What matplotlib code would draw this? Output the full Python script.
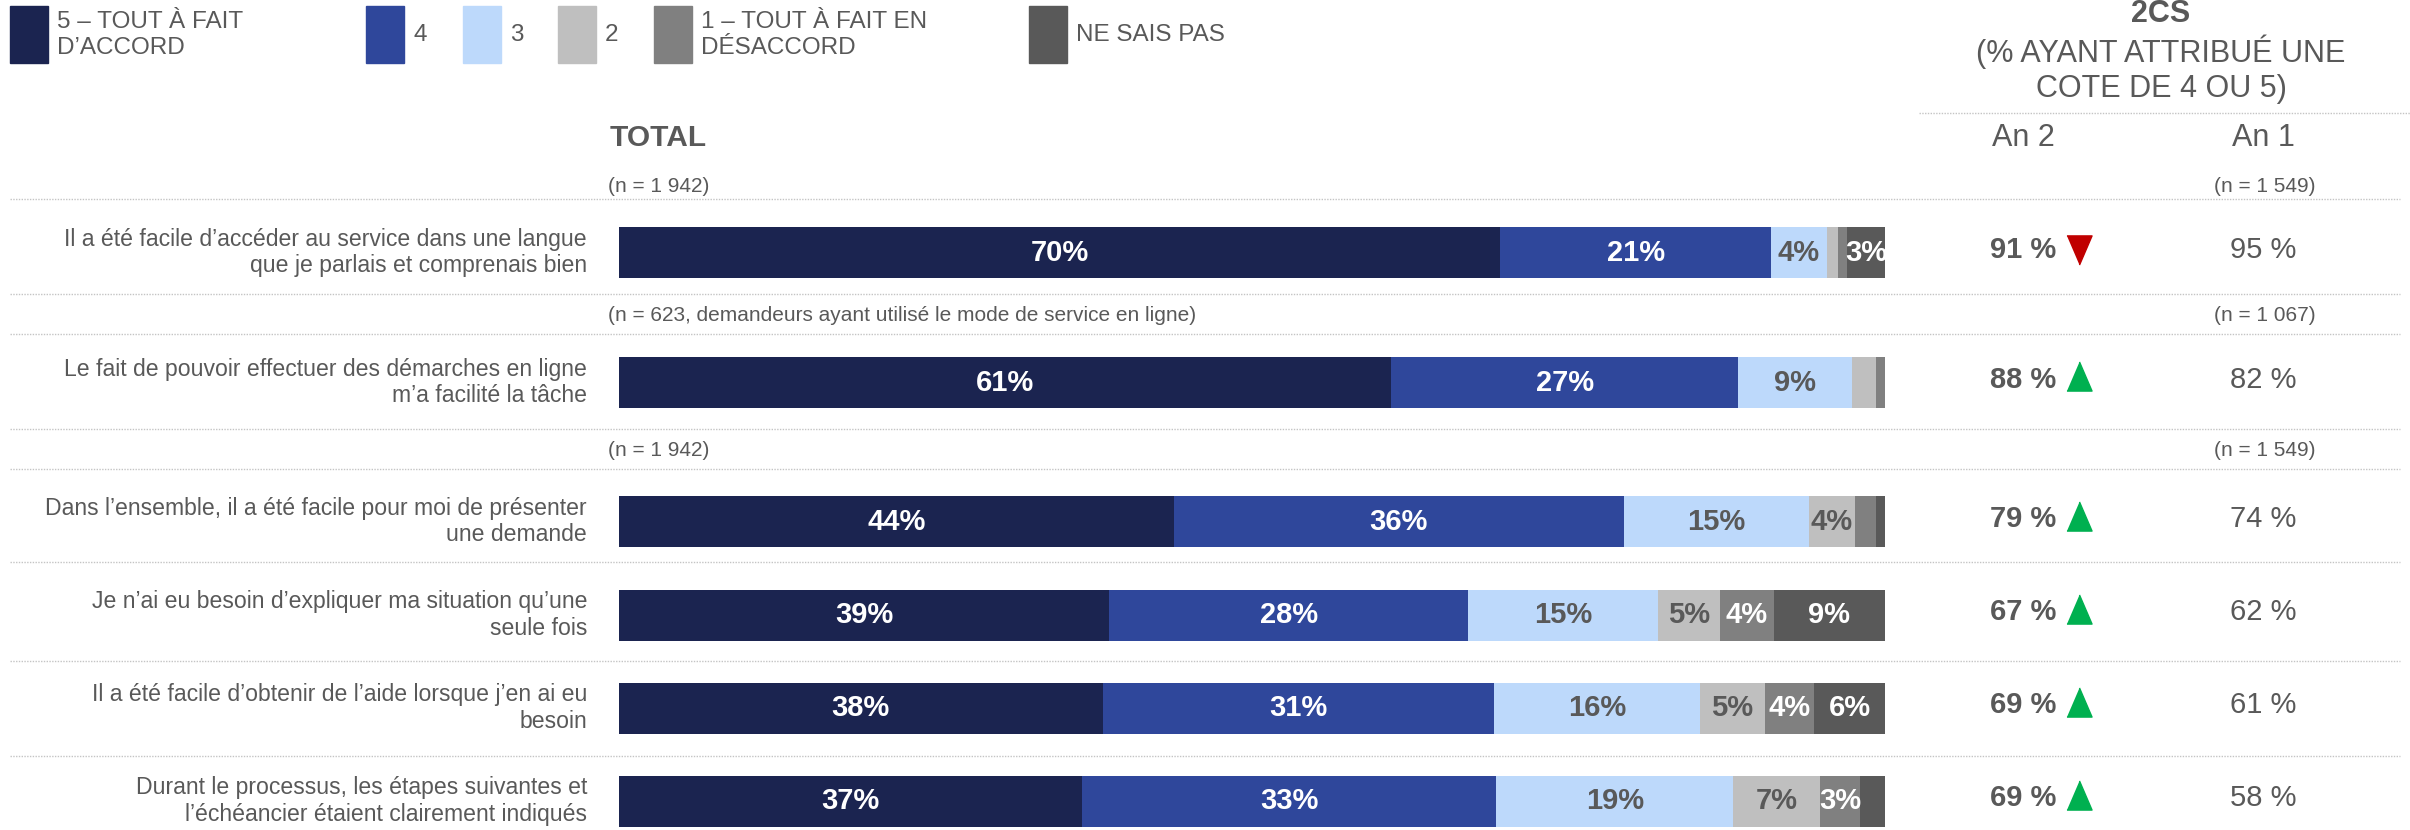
import matplotlib.pyplot as plt
from matplotlib.patches import Rectangle

plt.rcParams['font.family'] = ['Liberation Sans', 'DejaVu Sans']

# Data
categories = ['5 – TOUT À FAIT\nD’ACCORD', '4', '3', '2',
              '1 – TOUT À FAIT EN\nDÉSACCORD', 'NE SAIS PAS']
questions = [
    'Il a été facile d’accéder au service dans une langue\nque je parlais et comprenais bien',
    'Le fait de pouvoir effectuer des démarches en ligne\nm’a facilité la tâche',
    'Dans l’ensemble, il a été facile pour moi de présenter\nune demande',
    'Je n’ai eu besoin d’expliquer ma situation qu’une\nseule fois',
    'Il a été facile d’obtenir de l’aide lorsque j’en ai eu\nbesoin',
    'Durant le processus, les étapes suivantes et\nl’échéancier étaient clairement indiqués',
]
v5 = [69.6, 61.0, 43.8, 38.7, 38.2, 36.6]
v4 = [21.4, 27.4, 35.6, 28.4, 30.9, 32.7]
v3 = [4.4, 9.0, 14.6, 15.0, 16.3, 18.7]
v2 = [0.9, 1.9, 3.6, 4.9, 5.1, 6.9]
v1 = [0.7, 0.9, 1.7, 4.2, 3.9, 3.1]
vdk = [3.0, 0.3, 0.7, 8.8, 5.6, 2.0]
an2 = [91, 88, 79, 67, 69, 69]
an1 = [95, 82, 74, 62, 61, 58]
trend = ['down', 'up', 'up', 'up', 'up', 'up']
base_total = ['(n = 1 942)',
              '(n = 623, demandeurs ayant utilisé le mode de service en ligne)',
              '(n = 1 942)']
base_an1 = ['(n = 1 549)', '(n = 1 067)', '(n = 1 549)']

series = [v5, v4, v3, v2, v1, vdk]
colors = ['#1B2450', '#2F479B', '#BDD9FB', '#BFBFBF', '#808080', '#595959']
label_colors = ['white', 'white', '#595959', '#595959', 'white', 'white']
grey = '#595959'

# Layout (pixels)
W, H = 2410, 830
row_y = [252.5, 382.5, 521.5, 615, 708, 801]
base_y = [186, 315, 450]
sep_y = [199, 294, 334, 429, 469, 562, 661, 756]
bar_x0, bar_w = 619, 1266

fig = plt.figure(figsize=(W / 100, H / 100), dpi=100)
ov = fig.add_axes([0, 0, 1, 1])
ov.set_xlim(0, W)
ov.set_ylim(H, 0)
ov.axis('off')

ax = fig.add_axes([bar_x0 / W, 0, bar_w / W, 1])
ax.set_xlim(0, 100)
ax.set_ylim(H, 0)
ax.axis('off')

# stacked bars
lefts = [0] * len(questions)
for vals, col, tcol in zip(series, colors, label_colors):
    ax.barh(row_y, vals, left=lefts, height=51, color=col, linewidth=0)
    for y, l, v in zip(row_y, lefts, vals):
        if round(v) >= 3:
            ax.text(l + v / 2, y, f'{round(v)}%', ha='center', va='center',
                    color=tcol, fontsize=21, fontweight='bold')
    lefts = [l + v for l, v in zip(lefts, vals)]

# row labels
for y, q in zip(row_y, questions):
    ov.text(587, y, q, ha='right', va='center', fontsize=16.6, color=grey,
            linespacing=1.2)

# separators
ov.hlines(sep_y, 10, 2400, colors='#C4C4C4', linestyles=(0, (1, 1)), linewidth=1)
ov.hlines(113, 1919, 2410, colors='#C4C4C4', linestyles=(0, (1, 1)), linewidth=1)

# base notes
for y, t, t1 in zip(base_y, base_total, base_an1):
    ov.text(608, y, t, ha='left', va='center', fontsize=15, color=grey)
    ov.text(2265, y, t1, ha='center', va='center', fontsize=15, color=grey)

# headers
ov.text(610, 138, 'TOTAL', ha='left', va='center', fontsize=21.5,
        fontweight='bold', color=grey)
ov.text(2161, 14, '2CS', ha='center', va='center', fontsize=22,
        fontweight='bold', color=grey)
ov.text(2161, 52, '(% AYANT ATTRIBUÉ UNE', ha='center', va='center',
        fontsize=22, color=grey)
ov.text(2161, 89, 'COTE DE 4 OU 5)', ha='center', va='center',
        fontsize=22, color=grey)
ov.text(2023, 138, 'An 2', ha='center', va='center', fontsize=22, color=grey)
ov.text(2263, 138, 'An 1', ha='center', va='center', fontsize=22, color=grey)

# 2CS values + trend arrows
up = [(-0.43, -0.5), (0.43, -0.5), (0, 0.5)]
down = [(-0.43, 0.5), (0.43, 0.5), (0, -0.5)]
for y, a2, a1, tr in zip(row_y, an2, an1, trend):
    ov.text(2023, y - 3, f'{a2} %', ha='center', va='center', fontsize=21,
            fontweight='bold', color=grey)
    ov.text(2263, y - 3, f'{a1} %', ha='center', va='center', fontsize=21,
            color=grey)
    if tr == 'up':
        ov.plot(2079, y - 6, marker=up, ms=21, color='#00B050', ls='none')
    else:
        ov.plot(2079, y - 2, marker=down, ms=21, color='#C00000', ls='none')

# legend
leg_x = [10, 366, 463, 558, 654, 1029]
for x, lab, col in zip(leg_x, categories, colors):
    ov.add_patch(Rectangle((x, 6), 38, 57, color=col))
    ov.text(x + 47, 35, lab, ha='left', va='center', fontsize=17.5, color=grey,
            linespacing=1.2)

fig.savefig('out.png', dpi=100)
